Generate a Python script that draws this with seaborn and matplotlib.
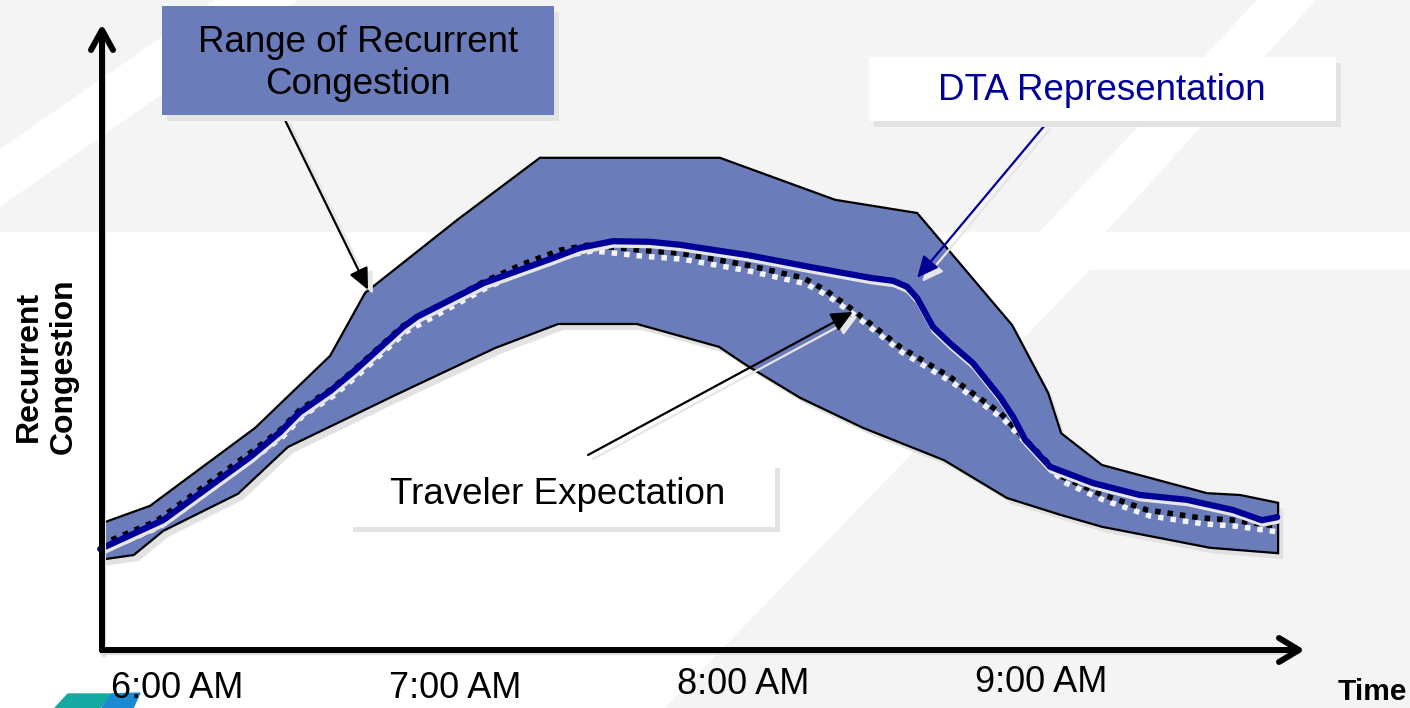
import matplotlib
matplotlib.use("Agg")
import matplotlib.pyplot as plt
import matplotlib.transforms as mtransforms
from matplotlib.patches import Polygon, Rectangle
import pandas as pd
import seaborn as sns

# ---------------------------------------------------------------------------
# Data: time in minutes after 6:00 AM, congestion as a relative level
# ---------------------------------------------------------------------------
BAND_UPPER_T = [-16.0, -5.6, 16.3, 31.9, 39.2, 58.3, 75.6, 113.1, 137.1, 154.2,
                174.0, 181.5, 184.2, 192.7, 214.6, 221.5, 229.4]
BAND_UPPER_C = [20.7, 23.7, 36.7, 48.7, 59.2, 71.3, 81.7, 81.7, 74.7, 72.5,
                53.8, 42.5, 35.8, 30.5, 25.8, 25.5, 24.2]

BAND_LOWER_T = [-16.0, -9.0, -2.9, 12.7, 23.1, 45.6, 66.3, 79.4, 95.8, 112.9,
                118.5, 129.8, 142.9, 159.8, 172.9, 184.0, 192.7, 215.2, 229.4]
BAND_LOWER_C = [14.7, 15.5, 19.5, 25.7, 33.5, 42.2, 50.0, 54.0, 54.0, 50.2,
                47.2, 41.7, 36.7, 31.3, 25.0, 22.2, 20.2, 16.7, 15.8]

DTA_T = [-16.0, -2.9, 8.3, 15.2, 21.5, 25.6, 31.9, 36.7, 47.1, 50.0, 63.8, 77.7,
         84.0, 90.8, 98.5, 104.8, 118.8, 131.9, 144.4, 149.2, 152.1, 154.2,
         157.5, 161.0, 165.8, 171.5, 174.2, 176.7, 181.9, 190.8, 200.6, 210.4,
         220.0, 226.0, 229.2]
DTA_C = [16.5, 21.3, 27.8, 31.8, 36.0, 39.3, 42.8, 46.0, 53.5, 55.2, 60.8, 64.8,
         66.7, 67.8, 67.7, 67.2, 65.5, 63.5, 61.7, 61.2, 60.2, 58.3,
         53.5, 50.8, 47.5, 41.8, 38.5, 34.7, 30.2, 27.5, 25.5, 24.7,
         23.0, 21.3, 21.8]

EXPECT_T = [-16.0, -4.2, 6.3, 15.2, 21.5, 25.6, 31.9, 36.7, 47.1, 63.8, 72.1,
            79.8, 86.0, 96.5, 104.8, 118.8, 130.4, 135.0, 140.2, 150.6, 161.0,
            171.5, 179.8, 184.0, 192.3, 202.1, 213.1, 220.0, 229.2]
EXPECT_C = [17.2, 21.2, 27.3, 32.5, 36.3, 39.7, 43.0, 46.2, 53.7, 61.0, 64.0,
            66.3, 67.2, 66.3, 65.8, 63.8, 61.7, 59.7, 56.7, 50.2, 45.2,
            39.2, 32.2, 28.7, 25.7, 23.0, 21.7, 21.3, 20.3]

TICK_MIN = [0, 58, 118, 180]
TICK_LABELS = ["6:00 AM", "7:00 AM", "8:00 AM", "9:00 AM"]

# Points on the marks that the callouts point to
RANGE_TIP = (39.8, 59.7)
DTA_TIP = (154.2, 61.7)
EXPECT_TIP = (140.8, 56.0)

# ---------------------------------------------------------------------------
# Style
# ---------------------------------------------------------------------------
sns.set_theme(style="white")
plt.rcParams["font.family"] = ["Liberation Sans", "DejaVu Sans"]

BAND_BLUE = "#6a7cb9"
NAVY = "#000096"
SHADOW = "#e2e2e2"
BG_GRAY = "#f4f4f4"

W, H = 1410, 708
fig = plt.figure(figsize=(W / 100, H / 100), dpi=100)
ax = fig.add_axes([0, 0, 1, 1])
ax.set_xlim(-36.875, 256.875)
ax.set_ylim(-10, 108)
ax.set_axis_off()

# pixel coordinates with the origin at the top-left corner
px = mtransforms.Affine2D().scale(1 / W, -1 / H).translate(0, 1) + fig.transFigure


def shifted(trans, dx, dy):
    return mtransforms.offset_copy(trans, fig=fig, x=dx, y=dy, units="dots")


# ---------------------------------------------------------------------------
# Slide background
# ---------------------------------------------------------------------------
ax.add_patch(Rectangle((0, 0), W, H, transform=px, color=BG_GRAY, zorder=0))
ax.add_patch(Rectangle((0, 232), W, H - 232, transform=px, color="white", zorder=0.1))
ax.add_patch(Polygon([(1090, 270), (W, 270), (W, H), (665, H)], closed=True,
                     transform=px, color=BG_GRAY, zorder=0.2))
ax.add_patch(Polygon([(216, 0), (297, 0), (0, 206), (0, 150)], closed=True,
                     transform=px, color="white", zorder=0.2))
ax.add_patch(Polygon([(1258, 0), (1315, 0), (1105, 232), (1040, 232)], closed=True,
                     transform=px, color="white", zorder=0.2))
# corner logo
ax.add_patch(Polygon([(55, 708), (68, 694), (112, 694), (100, 708)], closed=True,
                     transform=px, color="#17a9a4", zorder=0.3))
ax.add_patch(Polygon([(112, 694), (140, 693), (133, 708), (102, 708)], closed=True,
                     transform=px, color="#1a8ad4", zorder=0.3))

# ---------------------------------------------------------------------------
# Range of recurrent congestion (band)
# ---------------------------------------------------------------------------
band_xy = list(zip(BAND_UPPER_T, BAND_UPPER_C)) + \
    list(zip(BAND_LOWER_T[::-1], BAND_LOWER_C[::-1]))
ax.add_patch(Polygon(band_xy, closed=True, facecolor=SHADOW, edgecolor="none",
                     transform=shifted(ax.transData, 5, -6), zorder=1))
ax.add_patch(Polygon(band_xy, closed=True, facecolor=BAND_BLUE, edgecolor="black",
                     lw=1.6, joinstyle="miter", zorder=2))

# ---------------------------------------------------------------------------
# Traveler expectation (dotted) and DTA representation (solid)
# ---------------------------------------------------------------------------
expect = pd.DataFrame({"t": EXPECT_T, "c": EXPECT_C})
dta = pd.DataFrame({"t": DTA_T, "c": DTA_C})

dot_style = dict(lw=4.0, linestyle=(0, (1.0, 1.25)), dash_capstyle="butt")
sns.lineplot(data=expect, x="t", y="c", sort=False, estimator=None, ax=ax,
             color="#f3f3f3", transform=shifted(ax.transData, 3, -6),
             zorder=3, **dot_style)
sns.lineplot(data=expect, x="t", y="c", sort=False, estimator=None, ax=ax,
             color="black", zorder=4, **dot_style)

sns.lineplot(data=dta, x="t", y="c", sort=False, estimator=None, ax=ax,
             color="#e6e6e6", lw=3.6, transform=shifted(ax.transData, 1, -4),
             solid_capstyle="round", solid_joinstyle="round", zorder=5)
sns.lineplot(data=dta, x="t", y="c", sort=False, estimator=None, ax=ax,
             color=NAVY, lw=4.5, solid_capstyle="round", solid_joinstyle="round",
             zorder=6)

ax.set_xlim(-36.875, 256.875)
ax.set_ylim(-10, 108)
ax.set_axis_off()

# ---------------------------------------------------------------------------
# Axes drawn as arrows
# ---------------------------------------------------------------------------
axis_kw = dict(transform=px, color="black", lw=4.3, solid_capstyle="butt",
               solid_joinstyle="miter", zorder=9)
shadow_axis_kw = dict(transform=shifted(px, 2, -3), color="#dddddd", lw=3,
                      zorder=8.9)
ax.plot([102, 102], [652, 34], **shadow_axis_kw)
ax.plot([100, 1296], [650, 650], **shadow_axis_kw)
ax.plot([102, 102], [652, 32], **axis_kw)
ax.plot([100, 1298], [650, 650], **axis_kw)
ax.plot([91, 102, 113], [50, 30, 50], transform=px, color="black", lw=4.3,
        solid_capstyle="round", solid_joinstyle="round", zorder=9)
ax.plot([1279, 1299, 1279], [638, 650, 662], transform=px, color="black", lw=4.3,
        solid_capstyle="round", solid_joinstyle="round", zorder=9)

tick_trans = mtransforms.blended_transform_factory(ax.transData, px)
for t, lab, y in zip(TICK_MIN, TICK_LABELS, [688, 688, 685, 682]):
    ax.text(t, y, lab, transform=tick_trans, ha="center", va="center",
            fontsize=26, color="black", zorder=10)

ax.text(1338, 692, "Time", transform=px, ha="left", va="center", fontsize=21.5,
        fontweight="bold", color="black", zorder=10)
ax.text(46, 366, "Recurrent\nCongestion", transform=px, rotation=90,
        ha="center", va="center", multialignment="center", linespacing=1.2,
        fontsize=23, fontweight="bold", color="black", zorder=10)

# ---------------------------------------------------------------------------
# Callouts
# ---------------------------------------------------------------------------
def callout_box(x0, y0, x1, y1, face):
    ax.add_patch(Rectangle((x0 + 5, y0 + 6), x1 - x0, y1 - y0, transform=px,
                           facecolor="#e3e3e3", edgecolor="none", zorder=11))
    ax.add_patch(Rectangle((x0, y0), x1 - x0, y1 - y0, transform=px,
                           facecolor=face, edgecolor="none", zorder=12))


def callout_arrow(tip, start, color):
    head = "-|>,head_length=0.65,head_width=0.3"
    ax.annotate("", xy=tip, xycoords=shifted(ax.transData, 5, -4),
                xytext=start, textcoords=shifted(px, 5, -4),
                arrowprops=dict(arrowstyle=head, color="#e6e6e6", lw=1.6,
                                shrinkA=0, shrinkB=0, mutation_scale=20),
                zorder=7)
    ax.annotate("", xy=tip, xycoords="data", xytext=start, textcoords=px,
                arrowprops=dict(arrowstyle=head, color=color, lw=1.6,
                                shrinkA=0, shrinkB=0, mutation_scale=20),
                zorder=7.5)


callout_arrow(RANGE_TIP, (285, 120), "black")
callout_arrow(DTA_TIP, (1045, 125), NAVY)
callout_arrow(EXPECT_TIP, (588, 455), "black")

callout_box(162, 6, 554, 115, BAND_BLUE)
ax.text(358, 42, "Range of Recurrent", transform=px, ha="center", va="center",
        fontsize=26.5, color="black", zorder=13)
ax.text(358, 85, "Congestion", transform=px, ha="center", va="center",
        fontsize=26.5, color="black", zorder=13)

callout_box(869, 57, 1336, 121, "white")
ax.text(1102, 91, "DTA Representation", transform=px, ha="center", va="center",
        fontsize=26.5, color=NAVY, zorder=13)

ax.add_patch(Rectangle((353, 527), 426, 5, transform=px, facecolor="#e3e3e3",
                       edgecolor="none", zorder=11))
ax.add_patch(Rectangle((775, 468), 5, 64, transform=px, facecolor="#e3e3e3",
                       edgecolor="none", zorder=11))
ax.add_patch(Rectangle((350, 465), 425, 62, transform=px, facecolor="white",
                       edgecolor="none", zorder=12))
ax.text(558, 495, "Traveler Expectation", transform=px, ha="center", va="center",
        fontsize=26.5, color="black", zorder=13)

fig.savefig("out.png", dpi=100)
